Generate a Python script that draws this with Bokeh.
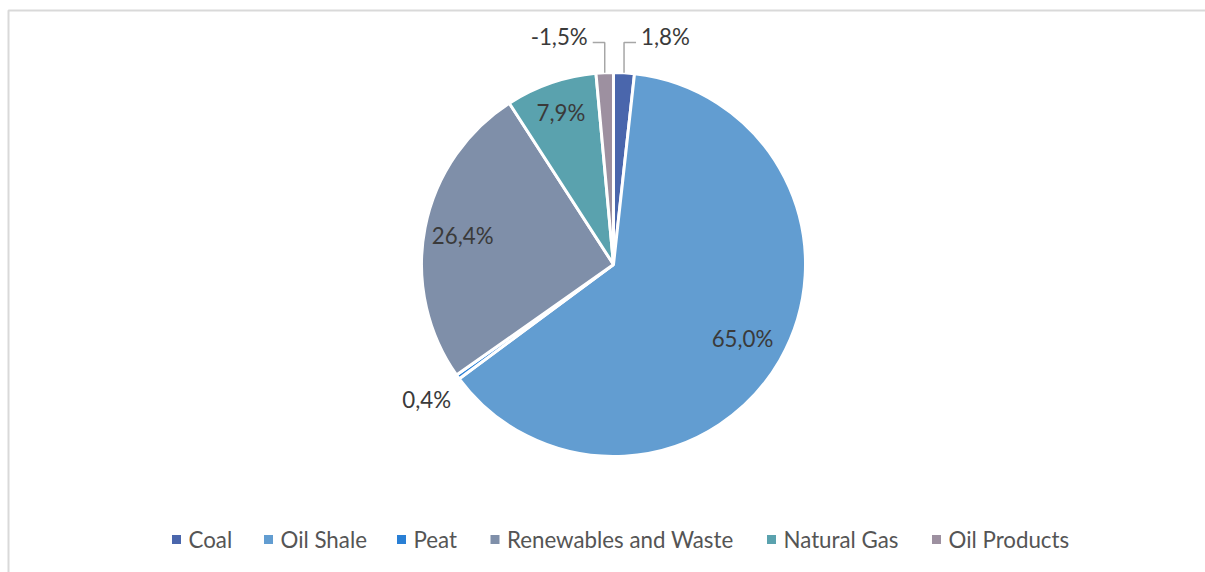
import math
from bokeh.plotting import figure
from bokeh.models import Range1d, ColumnDataSource
from bokeh.core.properties import value
from bokeh.embed import file_html
from bokeh.resources import INLINE

# ---- data ----
categories = ["Coal", "Oil Shale", "Peat", "Renewables and Waste", "Natural Gas", "Oil Products"]
shares = [1.8, 65.0, 0.4, 26.4, 7.9, -1.5]
colors = ["#4A66AC", "#629DD1", "#297FD5", "#7F8FA9", "#5AA2AE", "#9D90A0"]

# ---- layout ----
W, H = 1205, 572
CX, CY, R = 613, H - 264, 192
label_mode = ["callout", "inside", "outside", "inside", "inside", "callout"]
label_rad = [None, 0.775, 1.2, 0.80, 0.84, None]
legend_x = [176, 268, 401, 494.5, 771, 936]
legend_y = H - 539
FONT = value("Lato")
FSIZE = "22.3px"

p = figure(width=W, height=H, output_backend="svg", toolbar_location=None,
           x_axis_type=None, y_axis_type=None, min_border=0,
           x_range=Range1d(0, W), y_range=Range1d(0, H))
p.outline_line_color = None
p.grid.visible = False
p.background_fill_color = "white"
p.border_fill_color = "white"

# frame border (chart area)
p.line(x=[8, 8, W + 10], y=[-10, H - 10, H - 10], line_color="#D9D9D9", line_width=2)

sizes = [abs(v) for v in shares]
total = sum(sizes)
starts, ends, mids = [], [], []
cum = 0.0
for s in sizes:
    a0 = cum / total * 2 * math.pi
    a1 = (cum + s) / total * 2 * math.pi
    starts.append(math.pi / 2 - a1)
    ends.append(math.pi / 2 - a0)
    mids.append((a0 + a1) / 2)
    cum += s

src = ColumnDataSource(dict(start=starts, end=ends, color=colors, cat=categories))
p.wedge(x=CX, y=CY, radius=R, start_angle="start", end_angle="end", direction="anticlock",
        fill_color="color", line_color="white", line_width=3, source=src)

labels = [("%.1f" % v).replace(".", ",") + "%" for v in shares]

in_x, in_y, in_t = [], [], []
lx, ly = [], []
cl_x, cl_y, cl_t, cl_a = [], [], [], []
for i, mode in enumerate(label_mode):
    th = mids[i]
    if mode in ("inside", "outside"):
        r = label_rad[i] * R
        in_x.append(CX + r * math.sin(th))
        in_y.append(CY + r * math.cos(th))
        in_t.append(labels[i])
    else:
        ex = CX + R * math.sin(th)
        ey = CY + R * math.cos(th)
        elby = CY + R + 30
        side = 1 if math.sin(th) > 0 else -1
        endx = ex + side * 12
        lx.append([ex, ex, endx])
        ly.append([ey, elby, elby])
        cl_x.append(endx + side * 5)
        cl_y.append(elby + 6)
        cl_t.append(labels[i])
        cl_a.append("left" if side > 0 else "right")

p.text(x=in_x, y=in_y, text=in_t, text_font=FONT, text_font_size=FSIZE,
       text_color="#3A3A3A", text_align="center", text_baseline="middle")
p.multi_line(xs=lx, ys=ly, line_color="#A6A6A6", line_width=1.5)
p.text(x=cl_x, y=cl_y, text=cl_t, text_align=cl_a, text_font=FONT, text_font_size=FSIZE,
       text_color="#3A3A3A", text_baseline="middle")

# legend
p.scatter(x=legend_x, y=[legend_y] * len(legend_x), marker="square", size=9,
          fill_color=colors, line_color=None)
p.text(x=[x + 12 for x in legend_x], y=[legend_y] * len(legend_x), text=categories,
       text_font=FONT, text_font_size=FSIZE, text_color="#555555",
       text_align="left", text_baseline="middle")

open("out.html", "w").write(file_html(p, INLINE))
